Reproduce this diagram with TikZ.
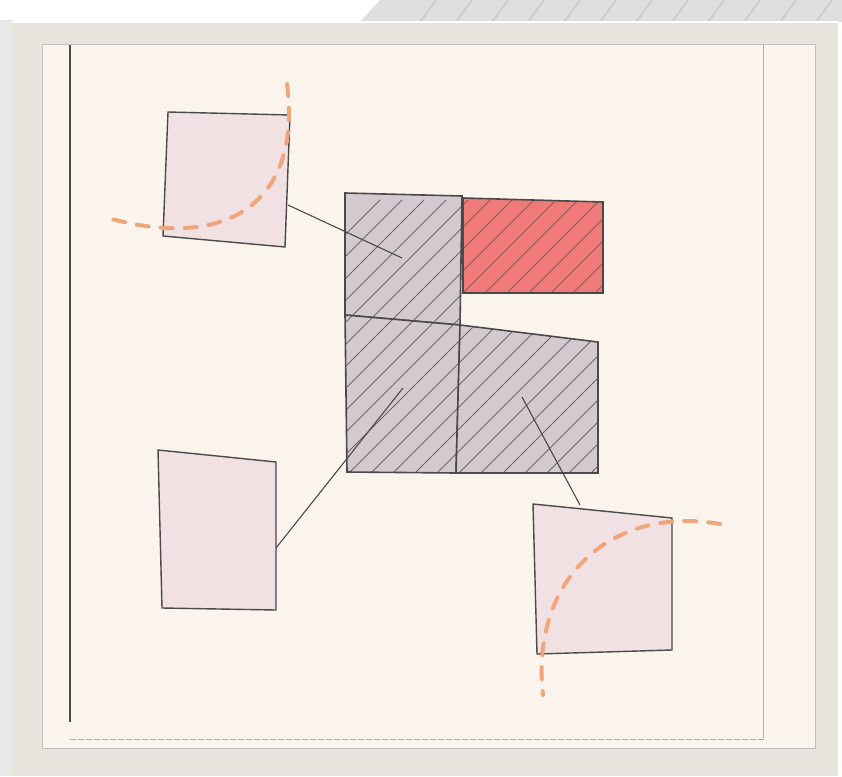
\documentclass[tikz,border=0pt]{standalone}
\usepackage{xcolor}
\usepackage{tikz}
\usetikzlibrary{calc}

\definecolor{frameC}{HTML}{E6E4DD}
\definecolor{paperC}{HTML}{FAF4EC}
\definecolor{pinkC}{HTML}{F1E1E3}
\definecolor{greyC}{HTML}{D3C9CF}
\definecolor{redC}{HTML}{F07A78}
\definecolor{hatchC}{HTML}{6E666C}
\definecolor{arcC}{HTML}{F0A57A}
\definecolor{penC}{HTML}{4A4A4A}

\begin{document}
\begin{tikzpicture}[x=1pt, y=-1pt,
  pbox/.style={draw=penC, line width=1.4pt, fill=pinkC},
  hbox/.style={draw=penC, line width=1.6pt, fill=greyC},
  rbox/.style={draw=penC, line width=1.6pt, fill=redC},
  hatch/.style={draw=hatchC, line width=0.9pt},
  link/.style={draw=penC, line width=1.1pt},
  arcd/.style={draw=arcC, line width=4pt, line cap=round, dash pattern=on 12pt off 12pt},
]
\useasboundingbox (0,0) rectangle (842,776);

%% background, frame and paper
\fill[white] (0,0) rectangle (842,776);
\fill[gray!25] (380,0) -- (842,0) -- (842,22) -- (360,22) -- cycle;
\foreach \k in {0,...,12}
  \draw[gray!40, line width=2pt] ({420+\k*36},22) -- ({436+\k*36},0);
\fill[gray!18] (0,20) rectangle (14,776);
\fill[frameC] (12,22) rectangle (838,776);
\draw[white, line width=2pt] (12,22) -- (838,22);
\fill[paperC] (42,45) rectangle (815,748);
\draw[gray!50, line width=1pt] (42,45) rectangle (815,748);
\draw[penC, line width=1.2pt] (70,45) -- (70,722);
\draw[gray!60, line width=0.6pt] (763,45) -- (763,738);
\draw[gray!70, line width=0.8pt, dash pattern=on 6pt off 2pt] (70,739) -- (765,739);

%% coordinates of the pieces
\coordinate (ulA) at (345,193); \coordinate (ulB) at (462,196);
\coordinate (ulC) at (460,325); \coordinate (ulD) at (345,315);
\coordinate (rdA) at (463,198); \coordinate (rdB) at (603,202);
\coordinate (rdC) at (603,293); \coordinate (rdD) at (463,293);
\coordinate (llC) at (456,473); \coordinate (llD) at (347,472);
\coordinate (lrB) at (598,342); \coordinate (lrC) at (598,473);

%% hatched block
\foreach \shape/\sty in {{(ulA)--(ulB)--(ulC)--(ulD)--cycle}/hbox,
                         {(rdA)--(rdB)--(rdC)--(rdD)--cycle}/rbox,
                         {(ulD)--(ulC)--(llC)--(llD)--cycle}/hbox,
                         {(ulC)--(lrB)--(lrC)--(llC)--cycle}/hbox}{
  \fill[\sty, draw=none] \shape;
  \begin{scope}
    \clip \shape;
    \foreach \i in {-10,...,24}
      \draw[hatch] ({300+\i*22},500) -- ({600+\i*22},200);
  \end{scope}
  \draw[\sty, fill=none] \shape;
}

%% pink boxes
\draw[pbox] (168,112) -- (290,115) -- (285,247) -- (163,236) -- cycle;
\draw[pbox] (158,450) -- (276,462) -- (276,610) -- (162,608) -- cycle;
\draw[pbox] (533,504) -- (672,518) -- (672,650) -- (537,654) -- cycle;

%% connectors
\coordinate (tlOut) at (288,205);  \coordinate (ulIn) at (402,258);
\coordinate (blOut) at (276,548);  \coordinate (llIn) at (403,388);
\coordinate (brOut) at (580,505);  \coordinate (lrIn) at (522,397);
\draw[link] (tlOut) -- (ulIn);
\draw[link] (blOut) -- (llIn);
\draw[link] (brOut) -- (lrIn);

%% orange arcs
\draw[arcd] (287,84) .. controls (302,200) and (230,252) .. (108,218);
\draw[arcd] (720,524) .. controls (610,505) and (530,580) .. (543,695);

\end{tikzpicture}
\end{document}
